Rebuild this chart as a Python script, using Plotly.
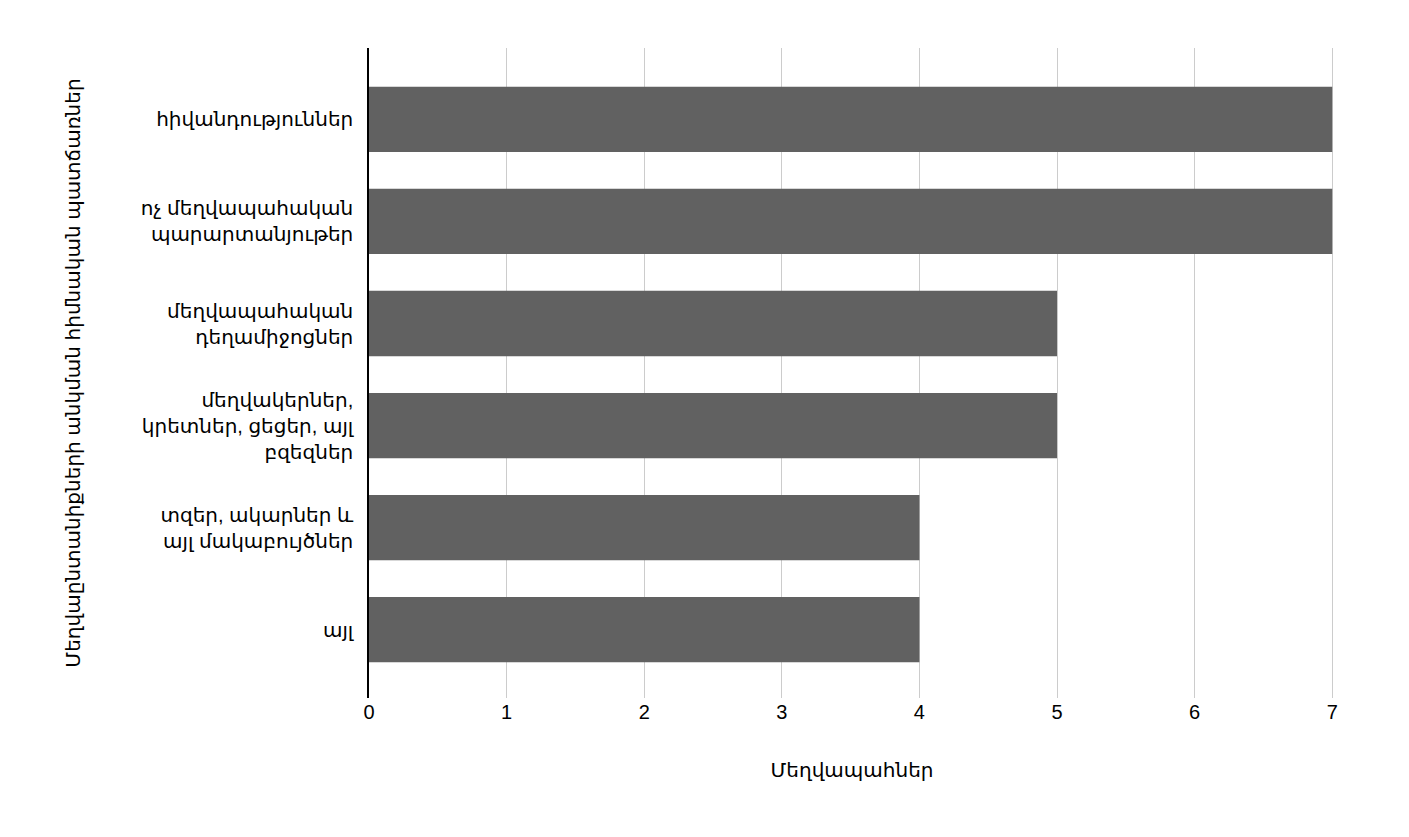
import plotly.graph_objects as go

categories = ["հիվանդություններ", "ոչ մեղվապահական<br>պարարտանյութեր", "մեղվապահական<br>դեղամիջոցներ",
              "մեղվակերներ,<br>կրետներ, ցեցեր, այլ<br>բզեզներ", "տզեր, ակարներ և<br>այլ մակաբույծներ", "այլ"]
values = [7, 7, 5, 5, 4, 4]
x_ticks = [0, 1, 2, 3, 4, 5, 6, 7]

fig = go.Figure(go.Bar(y=categories, x=values, orientation="h", marker_color="#616161",
                       marker_line_width=0, width=0.64))
fig.update_layout(
    width=1409, height=837, plot_bgcolor="white", paper_bgcolor="white",
    margin=dict(l=361, r=82, t=40, b=147),
    font=dict(family="Arial, Noto Sans, DejaVu Sans", size=20, color="#000"),
    showlegend=False,
)
fig.update_xaxes(range=[0, 7.02], tickvals=x_ticks, showgrid=True, gridcolor="#cccccc", gridwidth=1.3,
                 zeroline=False, ticks="", tickfont=dict(size=20), automargin=False,
                 title=dict(text="Մեղվապահներ", standoff=40, font=dict(size=20)))
fig.update_yaxes(range=[5.67, -0.7], showline=True, linecolor="#000", linewidth=1.5, ticks="",
                 ticklabelstandoff=10, tickfont=dict(size=20), automargin=False,
                 title=dict(text="Մեղվաընտանիքների անկման հիմնական պատճառներ", standoff=55, font=dict(size=20)))
fig.write_html("out.html")
